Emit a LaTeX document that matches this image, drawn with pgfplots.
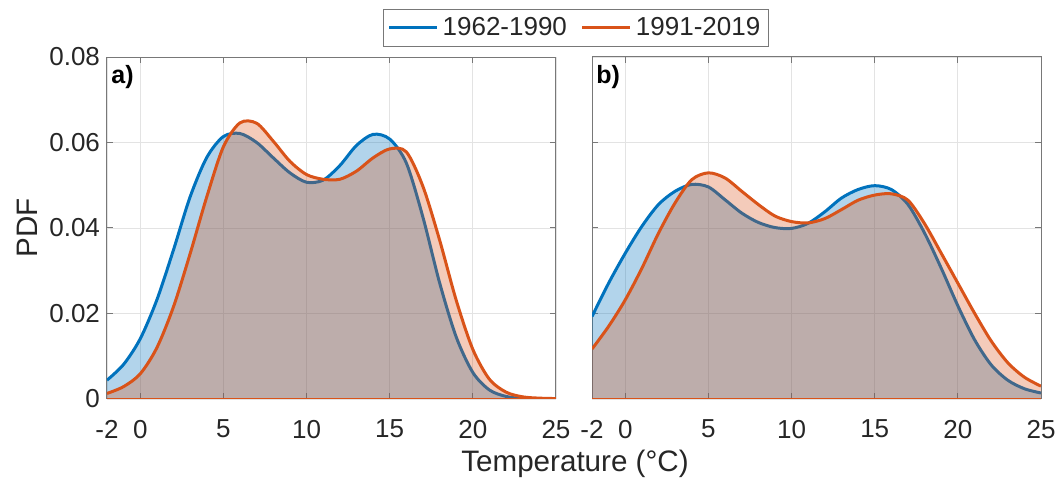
\documentclass[border=0pt]{standalone}
\usepackage{fontspec}
\setmainfont{Liberation Sans}
\usepackage{pgfplots}
\usepackage{pgfplotstable}
\pgfplotsset{compat=1.18}
\definecolor{mblue}{RGB}{0,114,189}
\definecolor{morange}{RGB}{217,83,25}
\definecolor{txt}{RGB}{38,38,38}
\definecolor{axc}{RGB}{120,120,120}

\pgfplotstableread{
x b o
-2 0.0044 0.0013
-1 0.0081 0.0029
0 0.0141 0.0059
1 0.0232 0.0120
2 0.0349 0.0216
3 0.0473 0.0340
4 0.0565 0.0473
5 0.0614 0.0590
6 0.0621 0.0646
7 0.0600 0.0645
8 0.0564 0.0603
9 0.0529 0.0556
10 0.0507 0.0525
11 0.0512 0.0514
12 0.0546 0.0514
13 0.0593 0.0533
14 0.0619 0.0564
15 0.0608 0.0585
16 0.0552 0.0578
17 0.0425 0.0497
18 0.0272 0.0372
19 0.0145 0.0231
20 0.0062 0.0116
21 0.0021 0.0046
22 0.0006 0.0016
23 0.0001 0.0005
24 0.0000 0.0002
25 0.0000 0.0001
}\dataA

\pgfplotstableread{
x b o
-2 0.0193 0.0117
-1 0.0271 0.0170
0 0.0341 0.0232
1 0.0404 0.0306
2 0.0455 0.0388
3 0.0486 0.0459
4 0.0502 0.0513
5 0.0496 0.0529
6 0.0466 0.0517
7 0.0435 0.0486
8 0.0413 0.0455
9 0.0401 0.0428
10 0.0399 0.0415
11 0.0411 0.0412
12 0.0438 0.0422
13 0.0470 0.0443
14 0.0490 0.0465
15 0.0499 0.0477
16 0.0490 0.0480
17 0.0455 0.0465
18 0.0388 0.0410
19 0.0306 0.0341
20 0.0218 0.0271
21 0.0139 0.0201
22 0.0080 0.0136
23 0.0044 0.0085
24 0.0024 0.0051
25 0.0014 0.0030
}\dataB

\pgfplotsset{
  panel/.style={
    scale only axis, width=224.5pt, height=171pt,
    xmin=-2, xmax=25, ymin=0, ymax=0.08,
    xtick={-2,0,5,10,15,20,25},
    xticklabels={-2,0,5,10,15,20,25},
    ytick={0,0.02,0.04,0.06,0.08},
    scaled y ticks=false,
    grid=major,
    major grid style={gray!22, line width=0.4pt},
    tick align=inside, tick pos=both, major tick length=3pt,
    axis line style={axc, line width=0.5pt},
    every tick/.style={axc, line width=0.5pt},
    tick label style={font=\fontsize{13}{15}\selectfont, text=txt},
    xticklabel style={yshift=-7pt},
  },
  bfill/.style={draw=none, fill=mblue, fill opacity=0.3, smooth, forget plot},
  ofill/.style={draw=none, fill=morange, fill opacity=0.3, smooth, forget plot},
  bline/.style={mblue, line width=1.5pt, smooth},
  oline/.style={morange, line width=1.5pt, smooth},
}

\begin{document}
\begin{tikzpicture}
\useasboundingbox (-53.5pt,-40.5pt) rectangle (476pt,199.5pt);
\begin{axis}[panel,
  yticklabels={0,0.02,0.04,0.06,0.08},
  ylabel={PDF},
  every axis y label/.style={at={(rel axis cs:0,0.5)}, xshift=-40pt, rotate=90, anchor=center, font=\fontsize{14.8}{17}\selectfont, text=txt},
  xlabel={Temperature (°C)},
  every axis x label/.style={at={(rel axis cs:1.0423,0)}, yshift=-32.5pt, anchor=center, font=\fontsize{14.8}{17}\selectfont, text=txt},
  legend style={at={(rel axis cs:1.0445,1.086)}, anchor=center, legend columns=2, draw=axc, fill=white, text=txt,
    font=\fontsize{13}{15}\selectfont, inner sep=2pt,
    /tikz/every even column/.append style={column sep=5pt}},
  legend image code/.code={\draw[#1, line width=1.5pt] (0pt,0pt) -- (24pt,0pt);},
]
\addplot[bfill] table[x=x,y=b] {\dataA} \closedcycle;
\addplot[bline] table[x=x,y=b] {\dataA};
\addlegendentry{1962-1990}
\addplot[ofill] table[x=x,y=o] {\dataA} \closedcycle;
\addplot[oline] table[x=x,y=o] {\dataA};
\addlegendentry{1991-2019}
\addplot[morange, line width=1pt, forget plot] coordinates {(-2,0) (25,0)};
\node[anchor=north west, inner sep=0pt, font=\bfseries\fontsize{12.5}{14}\selectfont, text=black] at (rel axis cs:0,1) [xshift=2pt, yshift=-4pt] {a)};
\end{axis}
\begin{axis}[panel, at={(242.5pt,0pt)}, anchor=south west,
  yticklabels={}]
\addplot[bfill] table[x=x,y=b] {\dataB} \closedcycle;
\addplot[bline] table[x=x,y=b] {\dataB};
\addplot[ofill] table[x=x,y=o] {\dataB} \closedcycle;
\addplot[oline] table[x=x,y=o] {\dataB};
\addplot[morange, line width=1pt, forget plot] coordinates {(-2,0) (25,0)};
\node[anchor=north west, inner sep=0pt, font=\bfseries\fontsize{12.5}{14}\selectfont, text=black] at (rel axis cs:0,1) [xshift=2pt, yshift=-4pt] {b)};
\end{axis}
\end{tikzpicture}
\end{document}
